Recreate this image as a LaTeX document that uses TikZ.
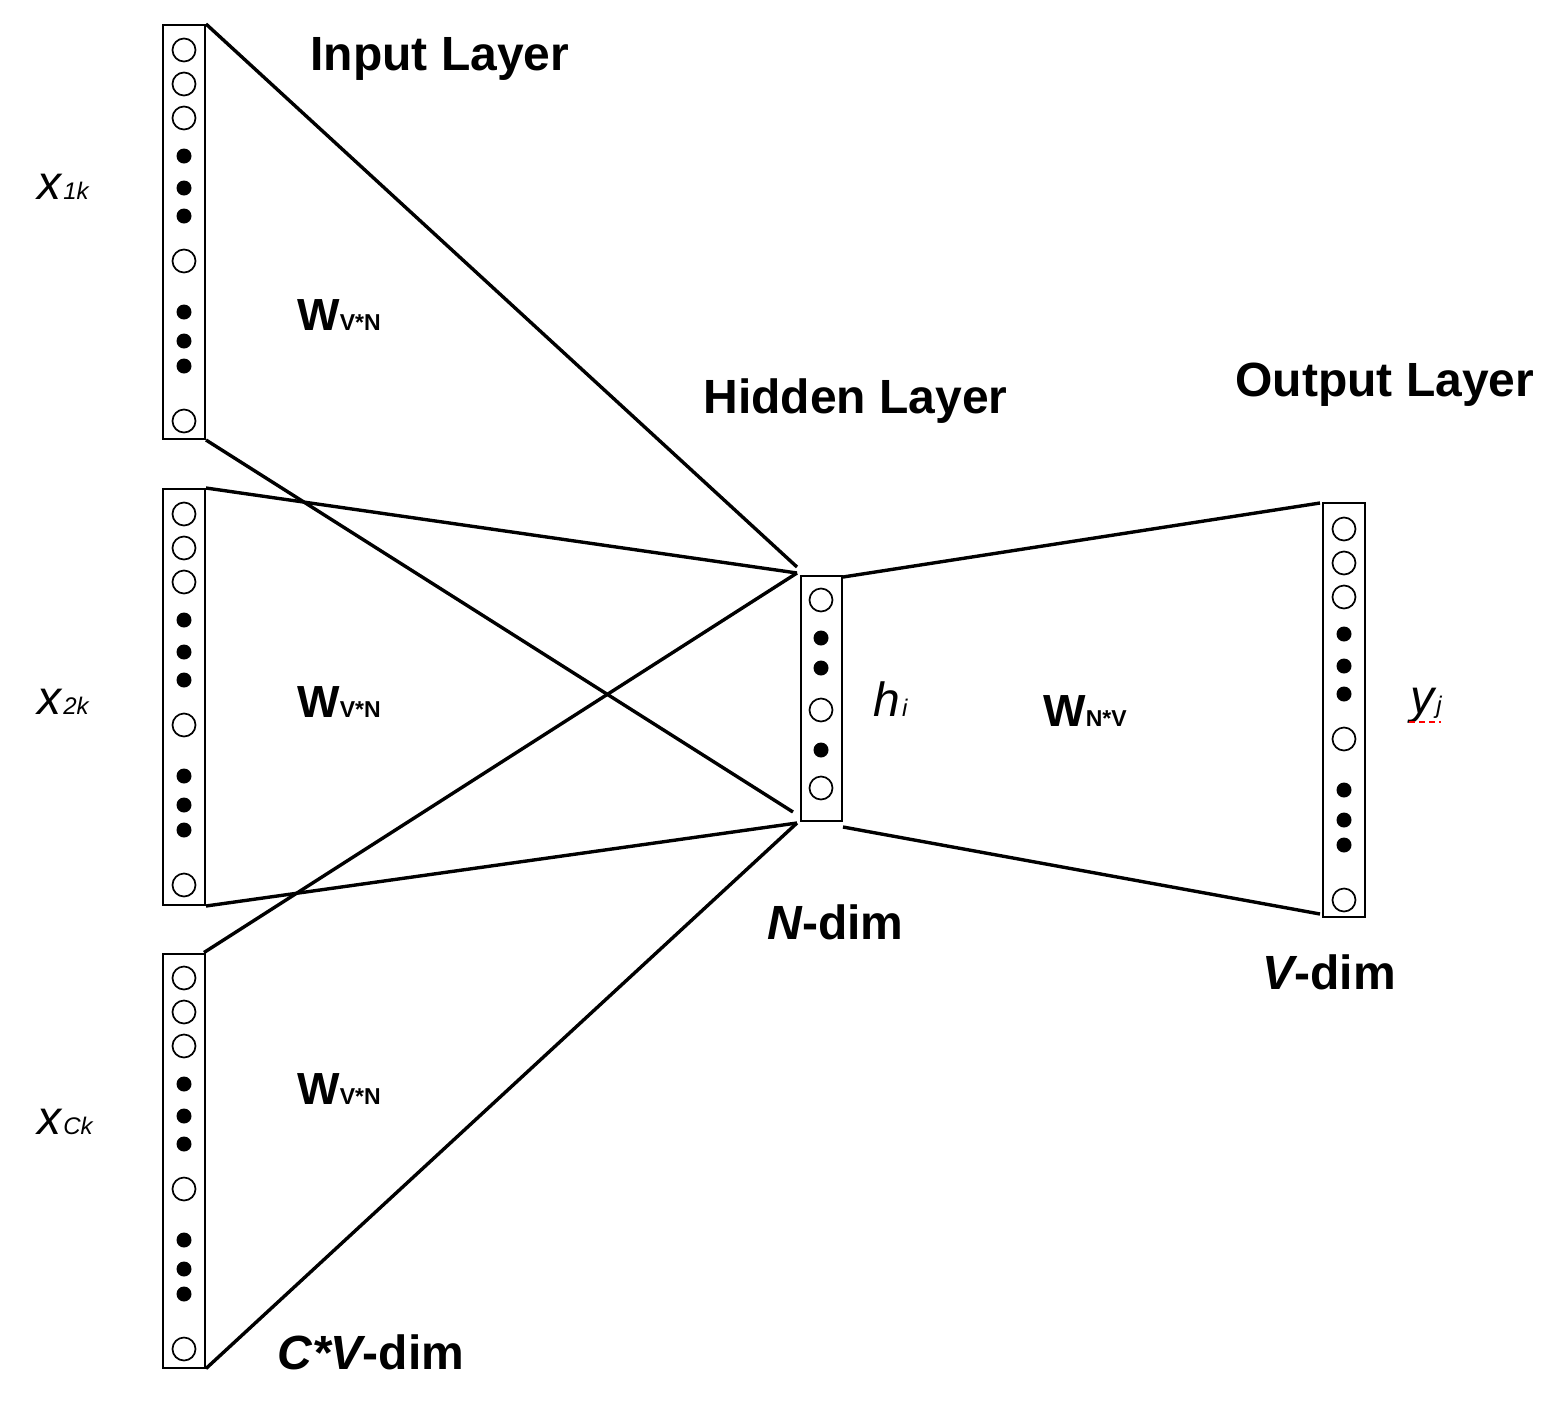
\documentclass[tikz,border=0pt]{standalone}
\usepackage{fontspec}
\setmainfont{Liberation Sans}
\begin{document}
\begin{tikzpicture}[x=0.5pt,y=-0.5pt,
  layerbox/.style={draw,line width=1pt,inner sep=0pt,minimum width=21pt},
  conn/.style={line width=1.7pt},
  unitc/.style={line width=0.85pt},
  title/.style={font=\fontsize{24}{28}\selectfont\bfseries, anchor=base west, inner sep=0pt},
  lbl/.style={anchor=base west, inner sep=0pt},
]
\useasboundingbox[fill=white] (0,0) rectangle (1554,1404);

% layer boxes
\node[layerbox,minimum height=207pt] (in1) at (184,232) {};
\node[layerbox,minimum height=208pt] (in2) at (184,697) {};
\node[layerbox,minimum height=207pt] (in3) at (184,1160.5) {};
\node[layerbox,minimum width=20.5pt,minimum height=122.5pt] (hid) at (821.5,698) {};
\node[layerbox,minimum height=207pt] (out) at (1344,710) {};

% units in input boxes
\foreach \o in {0,464,928}{
  \foreach \y in {50,84,118,261,421} \draw[unitc] (184,\y+\o) circle (11.5);
  \foreach \y in {156,188,216,312,341,366} \fill (184,\y+\o) circle (7.5);
}
% hidden units
\foreach \y in {600,710,788} \draw[unitc] (821,\y) circle (11.5);
\foreach \y in {638,668,750} \fill (821,\y) circle (7.5);
% output units
\foreach \y in {529,563,597,739,900} \draw[unitc] (1344,\y) circle (11.5);
\foreach \y in {634,666,694,790,820,845} \fill (1344,\y) circle (7.5);

% connector end points
\coordinate (hTL1) at (797,567);
\coordinate (hTL2) at (797,573);
\coordinate (hBL1) at (793,812);
\coordinate (hBL2) at (797,823);
\coordinate (hTR) at (843,577);
\coordinate (hBR) at (843,827);
\coordinate (oTL) at (1320,503);
\coordinate (oBL) at (1320,914);

\draw[conn] (in1.north east) -- (hTL1);
\draw[conn] (in1.south east) -- (hBL1);
\draw[conn] (in2.north east) -- (hTL2);
\draw[conn] (in2.south east) -- (hBL2);
\draw[conn] ([xshift=-1pt]in3.north east) -- (hTL2);
\draw[conn] (in3.south east) -- (hBL2);
\draw[conn] (hTR) -- (oTL);
\draw[conn] (hBR) -- (oBL);

% titles
\node[title] (tin) at (310,70) {Input Layer};
\node[title] (thid) at (703,413) {Hidden Layer};
\node[title] (tout) at (1235,396) {Output Layer};
\node[title] (tn) at (767,939) {\itshape N\upshape -dim};
\node[title] (tv) at (1262,989) {\itshape V\upshape -dim};
\node[title] (tcv) at (277,1369) {\itshape C*V\upshape -dim};

% weights
\foreach \n/\y in {w1/330,w2/717,w3/1104}
  \node[lbl] (\n) at (297,\y) {\fontsize{22.5}{26}\selectfont\bfseries W\fontsize{11.5}{14}\selectfont V*N};
\node[lbl] (w4) at (1043,726) {\fontsize{22.5}{26}\selectfont\bfseries W\fontsize{11.5}{14}\selectfont N*V};

% variable labels
\node[lbl] (x1) at (37,199) {\fontsize{24}{26}\selectfont\itshape x\kern1pt\fontsize{12}{14}\selectfont 1k};
\node[lbl] (x2) at (37,714) {\fontsize{24}{26}\selectfont\itshape x\kern1pt\fontsize{12}{14}\selectfont 2k};
\node[lbl] (x3) at (37,1134) {\fontsize{24}{26}\selectfont\itshape x\kern1pt\fontsize{12}{14}\selectfont Ck};
\node[lbl] (hi) at (873,716) {\fontsize{24}{26}\selectfont\itshape h\kern1pt\fontsize{12}{14}\selectfont i};
\node[lbl] (yj) at (1410,713) {\fontsize{24}{26}\selectfont\itshape y\kern1pt\fontsize{12}{14}\selectfont j};
\draw[red, line width=1pt, dash pattern=on 3pt off 2pt] (1409,722) -- (1441,722);
\end{tikzpicture}
\end{document}
